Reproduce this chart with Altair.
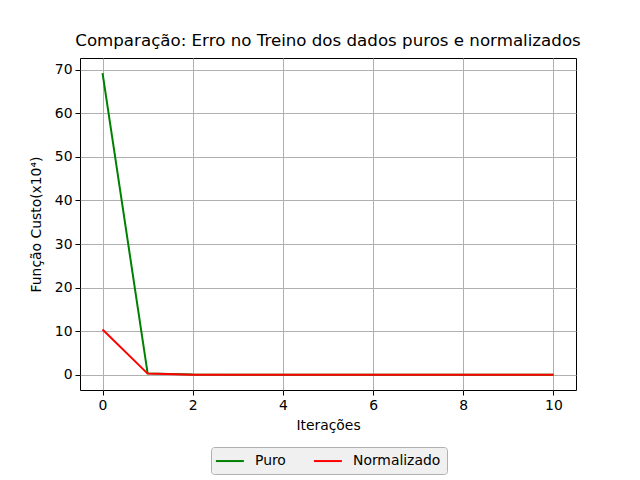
import altair as alt
import pandas as pd

iteracoes = list(range(11))
puro = [69.2, 0.35, 0.08, 0.05, 0.04, 0.03, 0.03, 0.02, 0.02, 0.02, 0.02]
normalizado = [10.4, 0.3, 0.06, 0.04, 0.03, 0.02, 0.02, 0.02, 0.02, 0.02, 0.02]

rows = []
for i, v in zip(iteracoes, puro):
    rows.append({"it": i, "val": v, "serie": "Puro"})
for i, v in zip(iteracoes, normalizado):
    rows.append({"it": i, "val": v, "serie": "Normalizado"})
df = pd.DataFrame(rows)

font = "DejaVu Sans"

chart = alt.Chart(df).mark_line(strokeWidth=2, clip=True).encode(
    x=alt.X("it:Q", scale=alt.Scale(domain=[-0.5, 10.5], nice=False, zero=False),
            axis=alt.Axis(values=[0, 2, 4, 6, 8, 10], title="Iterações", format="d")),
    y=alt.Y("val:Q", scale=alt.Scale(domain=[-3.46, 72.66], nice=False, zero=False),
            axis=alt.Axis(values=[0, 10, 20, 30, 40, 50, 60, 70], title="Função Custo(x10⁴)")),
    color=alt.Color("serie:N",
                    scale=alt.Scale(domain=["Puro", "Normalizado"], range=["#008000", "#ff0000"]),
                    legend=alt.Legend(title=None, orient="none", legendX=131, legendY=389,
                                      direction="horizontal", symbolType="M-1.3,0L2.7,0",
                                      symbolSize=196, symbolStrokeWidth=2,
                                      symbolFillColor="transparent",
                                      labelFont=font, labelFontSize=13.9, labelColor="black",
                                      labelOffset=22, columnPadding=23, padding=6,
                                      fillColor="#f0f0f0", strokeColor="#b0b0b0",
                                      cornerRadius=3)),
).properties(
    width=496, height=332,
    title=alt.TitleParams("Comparação: Erro no Treino dos dados puros e normalizados",
                          font=font, fontSize=16.67, fontWeight="normal", color="black",
                          anchor="middle", offset=8),
    autosize=alt.AutoSizeParams(type="none"),
    padding={"left": 80, "top": 58, "right": 64, "bottom": 90},
).configure_view(
    stroke="black", strokeWidth=1
).configure_axis(
    labelFont=font, labelFontSize=13.9, labelColor="black",
    titleFont=font, titleFontSize=13.9, titleFontWeight="normal", titleColor="black",
    domain=False, tickColor="black", tickSize=5, tickWidth=1,
    grid=True, gridColor="#b0b0b0", gridWidth=1, labelPadding=3,
).configure_axisX(titlePadding=7).configure_axisY(titlePadding=11)

chart.save("out.html", embed_options={"renderer": "svg", "actions": False})
